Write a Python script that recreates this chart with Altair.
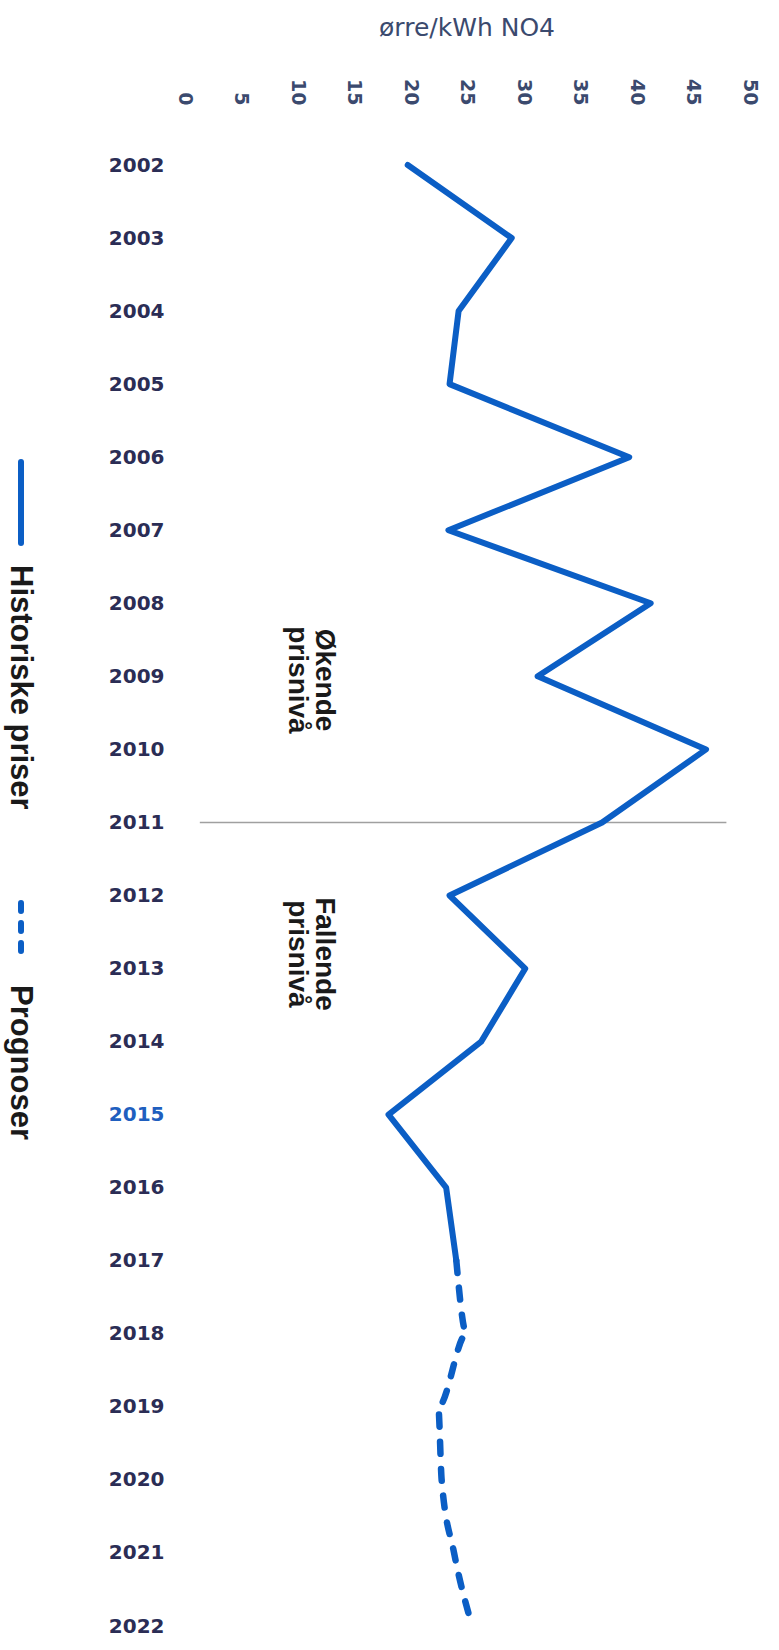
import altair as alt
import pandas as pd

# ---- data ----
hist_years = [2002, 2003, 2004, 2005, 2006, 2007, 2008, 2009, 2010, 2011,
              2012, 2013, 2014, 2015, 2016, 2017]
hist_price = [19.8, 29.0, 24.3, 23.5, 39.4, 23.4, 41.3, 31.3, 46.2, 37.0,
              23.5, 30.2, 26.3, 18.1, 23.2, 24.1]

fc_years = [2017, 2018, 2019, 2020, 2021, 2022]
fc_price = [24.1, 25.0, 22.5, 22.8, 23.9, 25.5]

year_ticks = list(range(2002, 2023))
value_ticks = list(range(0, 51, 5))

divider_year = [2011]
divider_from = [1.4]
divider_to = [48.0]

note_texts = ["Økende\nprisnivå", "Fallende\nprisnivå"]
note_years = [2009.05, 2012.8]
note_values = [12.4, 12.4]

legend_labels = ["Historiske priser", "Prognoser"]

BLUE = "#0b5ec5"
NAVY = "#2b2d55"
SLATE = "#3b4a6e"
NARROW = "Liberation Sans Narrow, Liberation Sans"

hist_df = pd.DataFrame({"year": hist_years, "price": hist_price})
fc_df = pd.DataFrame({"year": fc_years, "price": fc_price})
div_df = pd.DataFrame({"year": divider_year, "x1": divider_from, "x2": divider_to})
note_df = pd.DataFrame({"year": note_years, "price": note_values, "txt": note_texts})

x_enc = alt.X(
    "price:Q",
    scale=alt.Scale(domain=[0, 50], nice=False, zero=True),
    axis=alt.Axis(
        orient="top", values=value_ticks, labelAngle=90, title="ørre/kWh NO4",
        domain=False, ticks=False, grid=False,
        labelFont="DejaVu Sans", labelFontSize=19, labelFontWeight="bold",
        labelColor=SLATE, labelPadding=60,
        titleFont="DejaVu Sans", titleFontSize=25, titleFontWeight="normal",
        titleColor=SLATE, titlePadding=38,
    ),
)
y_enc = alt.Y(
    "year:Q",
    scale=alt.Scale(domain=[2002, 2022], reverse=True, nice=False, zero=False),
    axis=alt.Axis(
        values=year_ticks, format="d", title="",
        domain=False, ticks=False, grid=False,
        labelFont="DejaVu Sans", labelFontWeight="bold", labelFontSize=20,
        labelColor={"expr": "datum.value == 2015 ? '#1f5fbf' : '#2b2d55'"},
        labelPadding=20,
    ),
)

hist_line = alt.Chart(hist_df).mark_line(
    color=BLUE, strokeWidth=6, strokeJoin="round", strokeCap="round"
).encode(x=x_enc, y=y_enc, order="year:Q")

fc_line = alt.Chart(fc_df).mark_line(
    color=BLUE, strokeWidth=6.5, strokeDash=[12, 15], strokeCap="round",
    interpolate="monotone"
).encode(x="price:Q", y="year:Q", order="year:Q")

divider = alt.Chart(div_df).mark_rule(color="#a0a0a0", strokeWidth=1.5).encode(
    x="x1:Q", x2="x2:Q", y="year:Q"
)

notes = alt.Chart(note_df).mark_text(
    angle=90, align="center", baseline="middle", lineBreak="\n",
    font=NARROW, fontWeight="bold", fontSize=28, lineHeight=27, color="#1a1a1a"
).encode(x="price:Q", y="year:Q", text="txt:N")

one = pd.DataFrame({"k": [0]})

leg_solid = alt.Chart(one).mark_rule(
    color=BLUE, strokeWidth=6, strokeCap="round"
).encode(x=alt.value(-163), y=alt.value(297), y2=alt.value(378))

leg_dash = alt.Chart(one).mark_rule(
    color=BLUE, strokeWidth=6, strokeCap="round", strokeDash=[8, 12]
).encode(x=alt.value(-163), y=alt.value(738), y2=alt.value(792))

leg_t1 = alt.Chart(one).mark_text(
    angle=90, align="left", baseline="middle",
    font=NARROW, fontWeight="bold", fontSize=31, color="#1a1a1a"
).encode(x=alt.value(-164), y=alt.value(400), text=alt.value(legend_labels[0]))

leg_t2 = alt.Chart(one).mark_text(
    angle=90, align="left", baseline="middle",
    font=NARROW, fontWeight="bold", fontSize=31, color="#1a1a1a"
).encode(x=alt.value(-164), y=alt.value(820), text=alt.value(legend_labels[1]))

chart = alt.layer(
    divider, hist_line, fc_line, notes, leg_solid, leg_dash, leg_t1, leg_t2
).properties(
    width=565, height=1461,
    autosize=alt.AutoSizeParams(type="none"),
    padding={"left": 184, "top": 165, "right": 30, "bottom": 24},
    background="white",
).configure_view(stroke=None)

chart.save("out.html", embed_options={"renderer": "svg", "actions": False})
